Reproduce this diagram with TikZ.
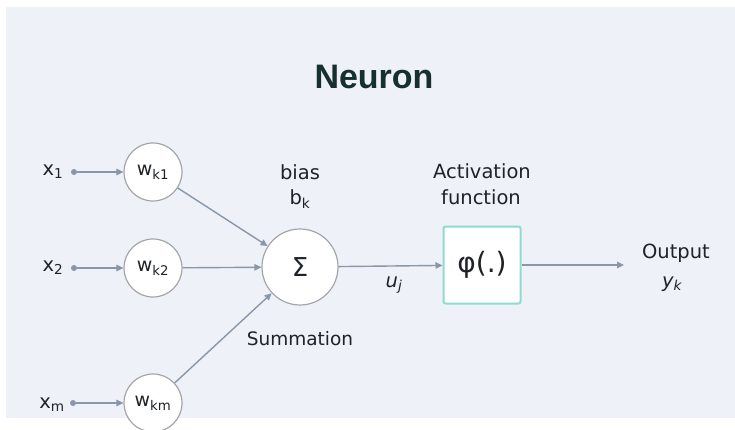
\documentclass[tikz,border=0pt]{standalone}
\usepackage{fontspec}
\setmainfont{DejaVu Sans}
\newfontfamily\titlefont{Liberation Sans}
\usetikzlibrary{arrows.meta}
\definecolor{bgc}{HTML}{EEF1F8}
\definecolor{linec}{HTML}{8A97A8}
\definecolor{circc}{HTML}{A3A6AB}
\definecolor{txtc}{HTML}{1F2327}
\definecolor{titlec}{HTML}{16302E}
\definecolor{boxc}{HTML}{8EDCD1}
\tikzset{
  conn/.style={draw=linec, line width=1.4pt, -{Triangle[length=7pt,width=6.5pt]}},
  wcirc/.style={circle, draw=circc, line width=1.2pt, fill=white, minimum size=58pt, inner sep=0pt, font=\fontsize{19}{22}\selectfont, text=txtc},
  scirc/.style={circle, draw=circc, line width=1.2pt, fill=white, minimum size=76pt, inner sep=0pt, font=\fontsize{26}{28}\selectfont, text=txtc},
  lbl/.style={font=\fontsize{19.5}{22}\selectfont, text=txtc, inner sep=0pt},
  dotn/.style={circle, fill=linec, minimum size=6pt, inner sep=0pt},
}
\begin{document}
\begin{tikzpicture}[x=1pt,y=-1pt]
\useasboundingbox (0,0) rectangle (735,430);
\fill[white] (0,0) rectangle (735,430);
\fill[bgc] (6,7) rectangle (735,418);
\node[font=\titlefont\fontsize{34}{36}\selectfont\bfseries, text=titlec, inner sep=0pt, anchor=base] (title) at (374,89) {Neuron};
% inputs
\node[lbl] (x1) at (53,172) {x\textsubscript{1}};
\node[lbl] (x2) at (53,268) {x\textsubscript{2}};
\node[lbl] (xm) at (52,405) {x\textsubscript{m}};
\node[dotn] (d1) at (74,172) {};
\node[dotn] (d2) at (74,268) {};
\node[dotn] (dm) at (73,403) {};
\node[wcirc] (w1) at (153,172) {w\textsubscript{k1}};
\node[wcirc] (w2) at (153,268) {w\textsubscript{k2}};
\node[wcirc] (wm) at (153,403) {w\textsubscript{km}};
\node[scirc] (sum) at (300,267) {Σ};
\node[lbl] (bias) at (300,172) {bias};
\node[lbl] (bk) at (300,199) {b\textsubscript{k}};
\node[lbl, font=\fontsize{18.5}{22}\selectfont] (summ) at (300,339) {Summation};
\node[lbl, font=\fontsize{19.5}{22}\selectfont\itshape] (uj) at (394,285) {u\textsubscript{j}};
\node[draw=boxc, line width=2pt, rounded corners=2pt, fill=white, minimum size=77pt, inner sep=0pt, font=\fontsize{28}{32}\selectfont, text=txtc] (phi) at (482,265) {φ(.)};
\node[lbl] (act) at (482,171) {Activation};
\node[lbl] (fun) at (481,197) {function};
\node[lbl] (out) at (676,253) {Output};
\node[lbl, font=\fontsize{19.5}{22}\selectfont\itshape] (yk) at (672,284) {y\textsubscript{k}};
\coordinate (oend) at (624,265);
% connectors
\draw[conn] (d1) -- (w1);
\draw[conn] (d2) -- (w2);
\draw[conn] (dm) -- (wm);
\draw[conn] (w1) -- (sum);
\draw[conn] (w2) -- (sum);
\draw[conn] (wm) -- (sum);
\draw[conn] (sum) -- (phi);
\draw[conn] (phi) -- (oend);
\end{tikzpicture}
\end{document}
